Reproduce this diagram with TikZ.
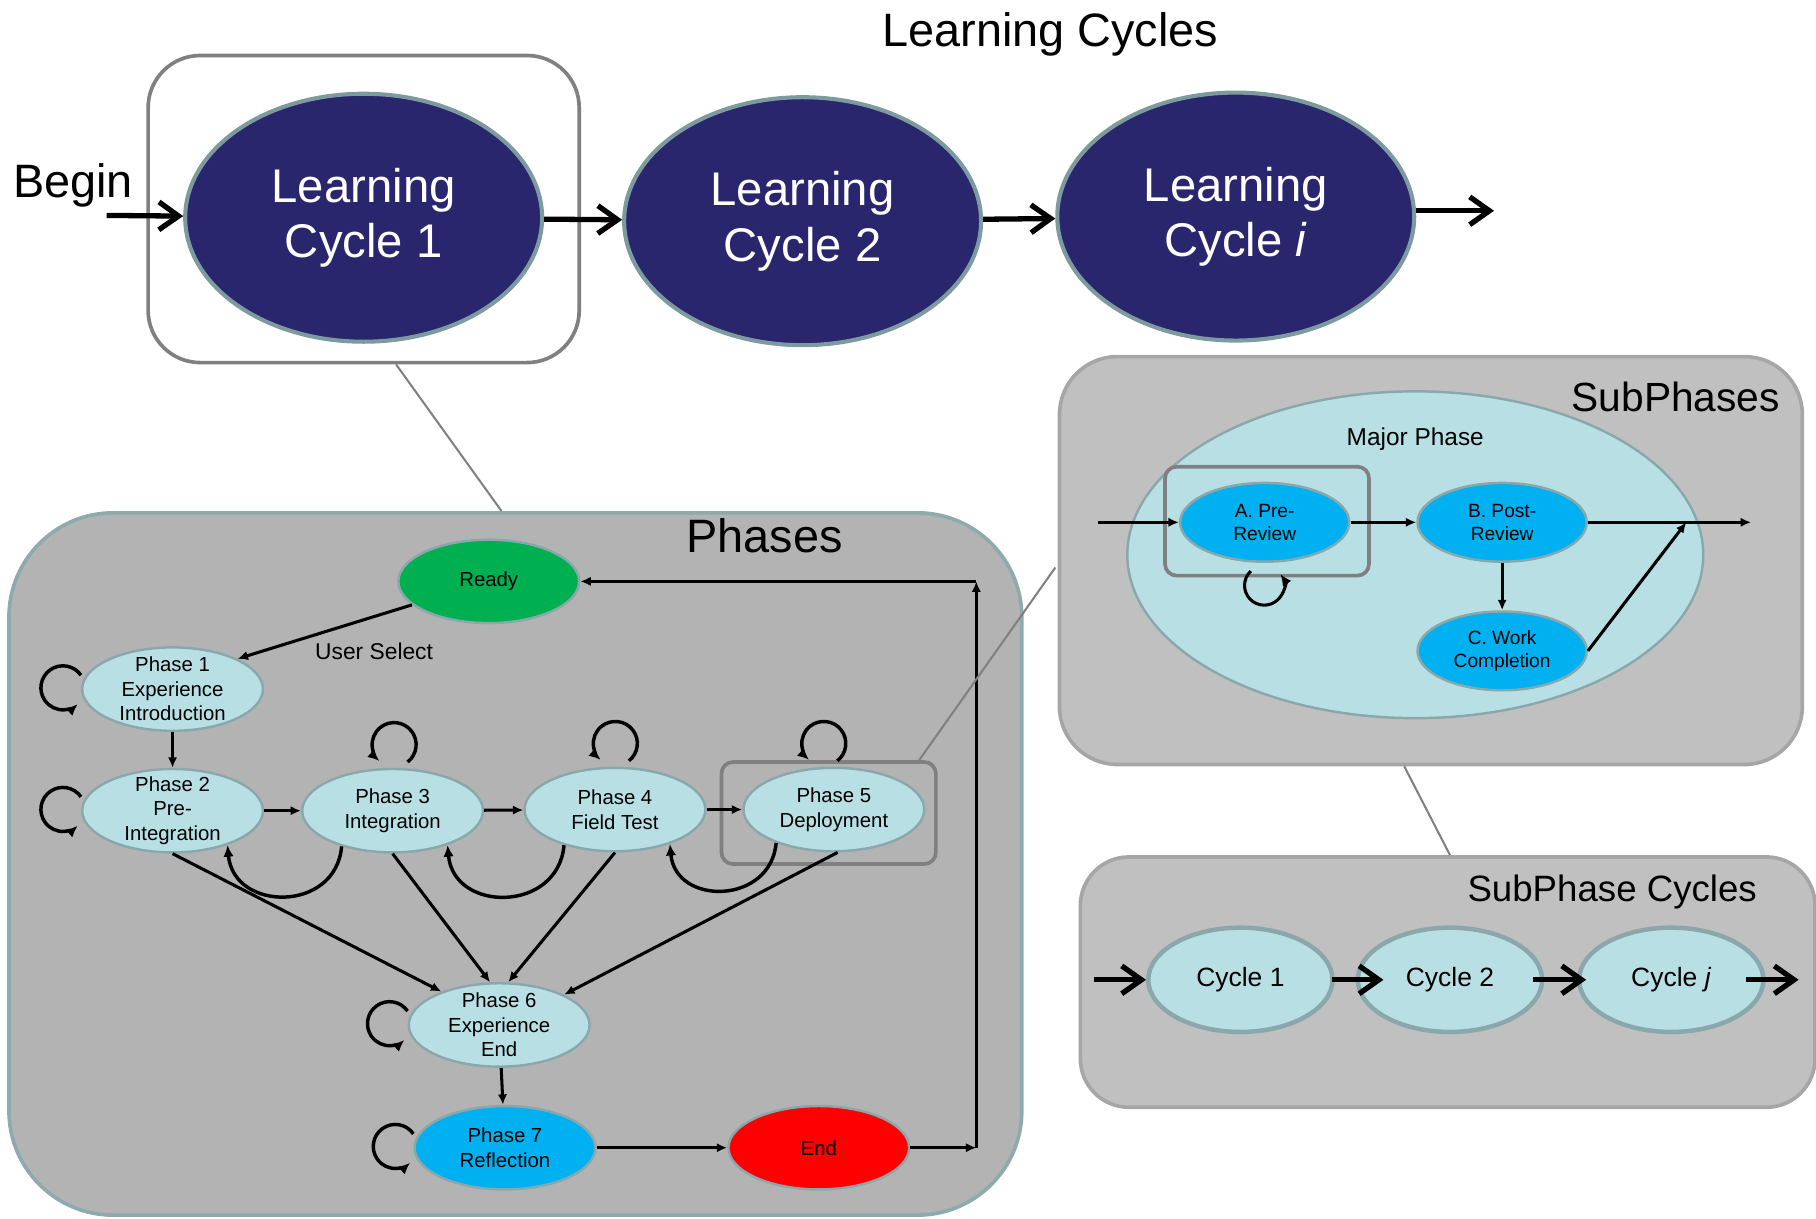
\documentclass[tikz,border=0pt]{standalone}
\usepackage{fontspec}
\setmainfont{Liberation Sans}
\usetikzlibrary{shapes.geometric,arrows.meta}

\definecolor{cyclenavy}{RGB}{41,38,110}
\definecolor{cycleedge}{RGB}{125,155,158}
\definecolor{phasecyan}{RGB}{184,224,228}
\definecolor{phaseedge}{RGB}{138,168,171}
\definecolor{panelgray}{RGB}{179,179,179}
\definecolor{paneledge}{RGB}{143,170,172}
\definecolor{subgray}{RGB}{192,192,192}
\definecolor{subedge}{RGB}{166,166,166}
\definecolor{boxgray}{RGB}{128,128,128}
\definecolor{skyblue}{RGB}{0,176,240}
\definecolor{readygreen}{RGB}{0,176,80}

\tikzset{
  bigcycle/.style={ellipse, fill=cyclenavy, draw=cycleedge, line width=1pt,
    minimum width=3.08cm, minimum height=2.14cm, inner sep=0pt,
    align=center, text=white, font=\fontsize{11.6}{13.6}\selectfont},
  phase/.style={ellipse, fill=phasecyan, draw=phaseedge, line width=0.6pt,
    minimum width=1.56cm, minimum height=0.72cm, inner xsep=0pt, inner ysep=-2.5pt,
    align=center, font=\fontsize{5}{6}\selectfont},
  subphase/.style={phase, fill=skyblue, minimum width=1.46cm,
    minimum height=0.68cm, font=\fontsize{4.7}{5.7}\selectfont},
  cyc/.style={ellipse, fill=phasecyan, draw=phaseedge, line width=1.1pt,
    minimum width=1.59cm, minimum height=0.90cm, inner sep=0pt,
    font=\fontsize{6.5}{8}\selectfont},
  panel/.style={rectangle, fill=panelgray, draw=paneledge, line width=0.9pt},
  subpanel/.style={rectangle, fill=subgray, draw=subedge, line width=0.9pt},
  hlbox/.style={rectangle, draw=boxgray, line width=0.9pt, rounded corners=0.1cm},
  zoomline/.style={draw=boxgray, line width=0.5pt},
  bigarrow/.style={line width=1.3pt, -{Straight Barb[length=1.7mm,width=2.4mm]}},
  smallarrow/.style={line width=0.75pt, -{Latex[length=0.9mm,width=0.8mm]}},
  selfloop/.style={line width=0.85pt, -{Latex[length=1mm,width=0.9mm]}},
  headline/.style={font=\fontsize{11.5}{13}\selectfont},
}

\begin{document}
\begin{tikzpicture}[x=0.01cm,y=0.01cm]

\useasboundingbox (0,0) rectangle (1568,-1052) ;

%learning cycles
\node [headline] (lctitle) at (907,-30) {Learning Cycles} ;
\node [hlbox, rounded corners=0.45cm, minimum width=3.72cm, minimum height=2.65cm] (lcbox) at (314,-180.5) {} ;
\node [bigcycle] (lc1) at (314,-188) {Learning\\Cycle 1} ;
\node [bigcycle] (lc2) at (693,-191) {Learning\\Cycle 2} ;
\node [bigcycle] (lci) at (1067,-187) {Learning\\Cycle \textit{i}} ;
\node [headline] (begin) at (63,-160) {Begin} ;

%learning cycle arrows
\coordinate (lcin) at (92,-186) ;
\coordinate (lcout) at (1290,-182) ;
\draw [bigarrow] (lcin) -- (lc1) ;
\draw [bigarrow] (lc1) -- (lc2) ;
\draw [bigarrow] (lc2) -- (lci) ;
\draw [bigarrow] (lci.east |- lcout) -- (lcout) ;

%phases panel
\node [panel, rounded corners=0.9cm, minimum width=8.74cm, minimum height=6.06cm] (phases) at (445,-746) {} ;
\node [headline] (phtitle) at (660,-463) {Phases} ;

%phases
\node [phase, fill=readygreen] (ready) at (422,-502) {Ready} ;
\node [phase] (p1) at (149,-595) {Phase 1\\Experience\\Introduction} ;
\node [phase] (p2) at (149,-700) {Phase 2\\Pre-\\Integration} ;
\node [phase] (p3) at (339,-700) {Phase 3\\Integration} ;
\node [phase] (p4) at (531,-699) {Phase 4\\Field Test} ;
\node [phase] (p5) at (720,-699) {Phase 5\\Deployment} ;
\node [phase] (p6) at (431,-885) {Phase 6\\Experience\\End} ;
\node [phase, fill=skyblue] (p7) at (436,-991) {Phase 7\\Reflection} ;
\node [phase, fill=red] (fin) at (707,-991) {End} ;
\node [hlbox, minimum width=1.85cm, minimum height=0.88cm] (p5box) at (715.5,-702) {} ;
\node [font=\fontsize{5.6}{7}\selectfont] (usersel) at (323,-562) {User Select} ;

%phase arrows
\draw [smallarrow] (ready.197) -- (p1.25) ;
\draw [smallarrow] (p1) -- (p2) ;
\draw [smallarrow] (p2) -- (p3) ;
\draw [smallarrow] (p3) -- (p4) ;
\draw [smallarrow] (p4) -- (p5) ;
\draw [smallarrow] (p2.south) -- (p6.150) ;
\draw [smallarrow] (p3.south) -- (p6.102) ;
\draw [smallarrow] (p4.south) -- (p6.78) ;
\draw [smallarrow] (p5.-85) -- (p6.25) ;
\draw [smallarrow] (p6) -- (p7) ;
\draw [smallarrow] (p7) -- (fin) ;

%going back
\draw [selfloop] (p3.215) to [out=-95, in=-85, looseness=1.5] (p2.-32) ;
\draw [selfloop] (p4.215) to [out=-95, in=-85, looseness=1.5] (p3.-32) ;
\draw [selfloop] (p5.210) to [out=-95, in=-85, looseness=1.5] (p4.-32) ;

\coordinate (backlow) at (843,-991) ;
\coordinate (backhigh) at (843,-502) ;
\draw [smallarrow] (fin) -- (backlow) ;
\draw [smallarrow] (backlow) -- (backhigh) ;
\draw [smallarrow] (backhigh) -- (ready) ;

%self loops
\draw [selfloop] ([shift={(0,12)}]p1.west) arc [start angle=35, end angle=312, radius=0.19cm] ;
\draw [selfloop] ([shift={(0,12)}]p2.west) arc [start angle=35, end angle=312, radius=0.19cm] ;
\draw [selfloop] ([shift={(0,12)}]p6.west) arc [start angle=35, end angle=312, radius=0.19cm] ;
\draw [selfloop] ([shift={(0,12)}]p7.west) arc [start angle=35, end angle=312, radius=0.19cm] ;
\draw [selfloop] ([shift={(13,5)}]p3.north) arc [start angle=-52, end angle=228, radius=0.19cm] ;
\draw [selfloop] ([shift={(12,5)}]p4.north) arc [start angle=-52, end angle=228, radius=0.19cm] ;
\draw [selfloop] ([shift={(3,5)}]p5.north) arc [start angle=-52, end angle=228, radius=0.19cm] ;

%subphases panel
\node [subpanel, rounded corners=0.5cm, minimum width=6.41cm, minimum height=3.52cm] (subph) at (1235.5,-484) {} ;
\node [font=\fontsize{10}{12}\selectfont] (subtitle) at (1447,-343) {SubPhases} ;
\node [ellipse, fill=phasecyan, draw=phaseedge, line width=0.6pt, minimum width=4.97cm, minimum height=2.82cm] (major) at (1222,-479) {} ;
\node [font=\fontsize{6}{7}\selectfont] (majortitle) at (1222,-379) {Major Phase} ;

%subphases
\node [subphase] (pa) at (1092,-451) {A. Pre-\\Review} ;
\node [subphase] (pb) at (1297,-451) {B. Post-\\Review} ;
\node [subphase] (pc) at (1297,-562) {C. Work\\Completion} ;
\node [hlbox, minimum width=1.76cm, minimum height=0.94cm] (pabox) at (1094,-450) {} ;

%subphase arrows
\coordinate (subin) at (948,-451) ;
\coordinate (subjoin) at (1456,-451) ;
\coordinate (subout) at (1512,-451) ;
\draw [smallarrow] (subin) -- (pa) ;
\draw [smallarrow] (pa) -- (pb) ;
\draw [smallarrow] (pb) -- (pc) ;
\draw [smallarrow] (pb) -- (subout) ;
\draw [smallarrow] (pc.east) -- (subjoin) ;
\draw [selfloop, line width=0.75pt] ([shift={(-12,-7)}]pa.south) arc [start angle=133, end angle=395, radius=0.17cm] ;

%subphase cycles panel
\node [subpanel, rounded corners=0.42cm, minimum width=6.34cm, minimum height=2.16cm] (cycpanel) at (1250,-848) {} ;
\node [font=\fontsize{9}{11}\selectfont] (cyctitle) at (1392,-770) {SubPhase Cycles} ;
\node [cyc] (c1) at (1071,-846) {Cycle 1} ;
\node [cyc] (c2) at (1252,-846) {Cycle 2} ;
\node [cyc] (cj) at (1443,-846) {Cycle \textit{j}} ;

\coordinate (cycin) at (945,-846) ;
\coordinate (cycout) at (1553,-846) ;
\draw [bigarrow] (cycin) -- (c1.west) ;
\draw [bigarrow] ([shift={(-2,0)}]c1.east) -- ([shift={(24,0)}]c2.west) ;
\draw [bigarrow] ([shift={(-10,0)}]c2.east) -- ([shift={(8,0)}]cj.west) ;
\draw [bigarrow] ([shift={(-17,0)}]cj.east) -- (cycout) ;

%zoom lines
\draw [zoomline] ([shift={(28,0)}]lcbox.south) -- ([shift={(-12,0)}]phases.north) ;
\draw [zoomline] ([shift={(-16,0)}]p5box.north east) -- ([shift={(-2,-6)}]subph.west) ;
\draw [zoomline] ([shift={(-23,0)}]subph.south) -- ([shift={(2,0)}]cycpanel.north) ;

\end{tikzpicture}
\end{document}
